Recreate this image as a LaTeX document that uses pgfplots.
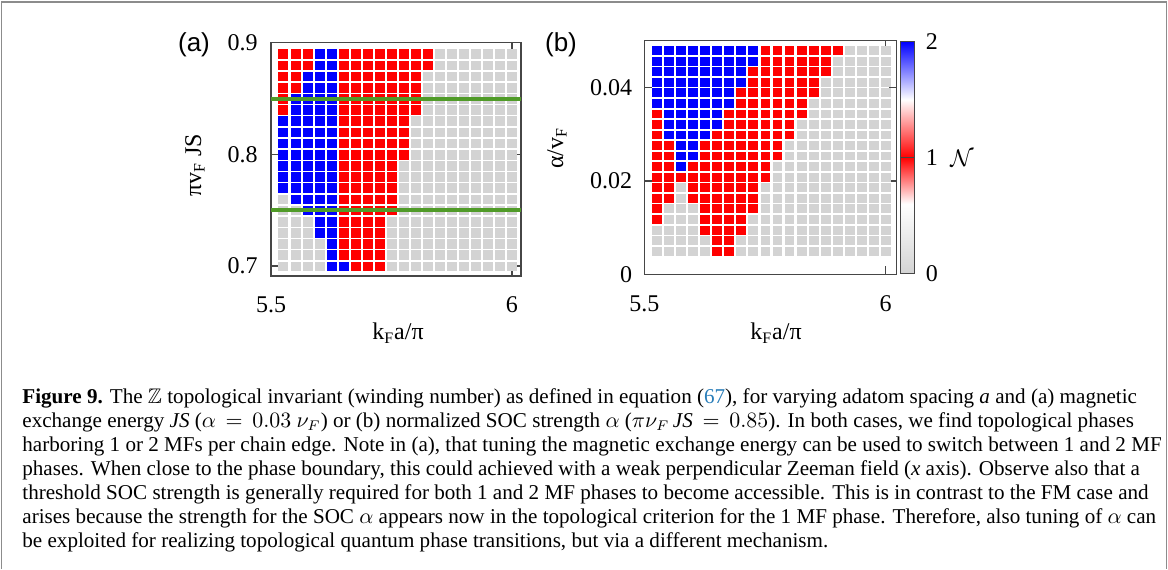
\documentclass[border=0pt]{standalone}
\usepackage{pgfplots}
\pgfplotsset{compat=1.18}
\usepackage{pgfplotstable}
\usepackage{amssymb}
\usepackage{fontspec}
\setmainfont{Liberation Serif}
\newfontfamily\sansf{Liberation Sans}
\definecolor{lnk}{RGB}{40,125,185}
\definecolor{gline}{RGB}{80,155,40}
\definecolor{frame}{RGB}{70,70,70}

\pgfplotsset{colormap={phase}{rgb255(0pt)=(211,211,211) rgb255(6pt)=(255,255,255) rgb255(10pt)=(255,0,0) rgb255(15pt)=(255,255,255) rgb255(20pt)=(0,0,255)}}

\pgfplotstableread{
x
5.525
5.55
5.575
5.6
5.625
5.65
5.675
5.7
5.725
5.75
5.775
5.8
5.825
5.85
5.875
5.9
5.925
5.95
5.975
6.0
}\xgrid

% panel (a): rows = pi v_F JS, columns c1..c20 = k_F a/pi ; N = 0,1,2
\pgfplotstableread{
y c1 c2 c3 c4 c5 c6 c7 c8 c9 c10 c11 c12 c13 c14 c15 c16 c17 c18 c19 c20
0.89 1 1 1 2 2 1 1 1 1 1 1 1 1 0 0 0 0 0 0 0
0.88 1 1 1 2 2 1 1 1 1 1 1 1 1 0 0 0 0 0 0 0
0.87 1 1 2 2 2 1 1 1 1 1 1 1 0 0 0 0 0 0 0 0
0.86 1 1 2 2 2 1 1 1 1 1 1 1 0 0 0 0 0 0 0 0
0.85 1 2 2 2 2 1 1 1 1 1 1 1 0 0 0 0 0 0 0 0
0.84 1 2 2 2 2 1 1 1 1 1 1 1 0 0 0 0 0 0 0 0
0.83 2 2 2 2 2 1 1 1 1 1 1 0 0 0 0 0 0 0 0 0
0.82 2 2 2 2 2 1 1 1 1 1 1 0 0 0 0 0 0 0 0 0
0.81 2 2 2 2 2 1 1 1 1 1 1 0 0 0 0 0 0 0 0 0
0.80 2 2 2 2 2 1 1 1 1 1 1 0 0 0 0 0 0 0 0 0
0.79 2 2 2 2 2 1 1 1 1 1 0 0 0 0 0 0 0 0 0 0
0.78 2 2 2 2 2 1 1 1 1 1 0 0 0 0 0 0 0 0 0 0
0.77 2 2 2 2 2 1 1 1 1 1 0 0 0 0 0 0 0 0 0 0
0.76 0 2 2 2 2 1 1 1 1 1 0 0 0 0 0 0 0 0 0 0
0.75 0 0 2 2 2 1 1 1 1 1 0 0 0 0 0 0 0 0 0 0
0.74 0 0 0 2 2 1 1 1 1 0 0 0 0 0 0 0 0 0 0 0
0.73 0 0 0 2 2 1 1 1 1 0 0 0 0 0 0 0 0 0 0 0
0.72 0 0 0 0 2 1 1 1 1 0 0 0 0 0 0 0 0 0 0 0
0.71 0 0 0 0 2 1 1 1 1 0 0 0 0 0 0 0 0 0 0 0
0.70 0 0 0 0 2 2 1 1 1 0 0 0 0 0 0 0 0 0 0 0
}\tablea

% panel (b): rows = alpha/v_F
\pgfplotstableread{
y c1 c2 c3 c4 c5 c6 c7 c8 c9 c10 c11 c12 c13 c14 c15 c16 c17 c18 c19 c20
0.0480 2 2 2 2 2 2 2 2 2 1 1 1 1 1 1 1 0 0 0 0
0.0457 2 2 2 2 2 2 2 2 2 1 1 1 1 1 1 0 0 0 0 0
0.0435 2 2 2 2 2 2 2 2 1 1 1 1 1 1 1 0 0 0 0 0
0.0412 2 2 2 2 2 2 2 2 1 1 1 1 1 1 0 0 0 0 0 0
0.0390 2 2 2 2 2 2 2 1 1 1 1 1 1 1 0 0 0 0 0 0
0.0367 2 2 2 2 2 2 2 1 1 1 1 1 1 0 0 0 0 0 0 0
0.0344 1 2 2 2 2 2 1 1 1 1 1 1 1 0 0 0 0 0 0 0
0.0322 1 2 2 2 2 2 1 1 1 1 1 1 0 0 0 0 0 0 0 0
0.0299 1 2 2 2 2 1 1 1 1 1 1 1 0 0 0 0 0 0 0 0
0.0276 1 1 2 2 1 1 1 1 1 1 1 0 0 0 0 0 0 0 0 0
0.0254 1 1 2 2 1 1 1 1 1 1 1 0 0 0 0 0 0 0 0 0
0.0231 1 1 2 1 1 1 1 1 1 1 0 0 0 0 0 0 0 0 0 0
0.0208 1 1 1 1 1 1 1 1 1 1 0 0 0 0 0 0 0 0 0 0
0.0186 1 1 0 1 1 1 1 1 1 0 0 0 0 0 0 0 0 0 0 0
0.0163 1 1 0 1 1 1 1 1 1 0 0 0 0 0 0 0 0 0 0 0
0.0141 1 0 0 0 1 1 1 1 1 0 0 0 0 0 0 0 0 0 0 0
0.0118 1 0 0 0 1 1 1 1 0 0 0 0 0 0 0 0 0 0 0 0
0.0095 0 0 0 0 1 1 1 1 0 0 0 0 0 0 0 0 0 0 0 0
0.0073 0 0 0 0 0 1 1 0 0 0 0 0 0 0 0 0 0 0 0 0
0.0050 0 0 0 0 0 1 1 0 0 0 0 0 0 0 0 0 0 0 0 0
}\tableb

\newcommand\tickfont{\fontsize{12}{14}\selectfont}
\pgfplotsset{
  pan/.style={scale only axis, anchor=south west, tick align=inside,
    major tick length=4pt,
    axis line style={frame, line width=0.75pt},
    tick style={frame, line width=0.75pt},
    tick label style={font=\tickfont},
    scaled ticks=false,
    point meta min=0, point meta max=2, colormap name=phase,
    clip=false, clip marker paths=true},
  sqa/.style={only marks, scatter, point meta=explicit, mark=square*, mark size=2.25pt,
    mark options={yscale=0.97, line width=0.1pt},
    scatter/use mapped color={draw=mapped color, fill=mapped color}},
  sqb/.style={only marks, scatter, point meta=explicit, mark=square*, mark size=2.2pt,
    mark options={yscale=0.9, line width=0.1pt},
    scatter/use mapped color={draw=mapped color, fill=mapped color}},
}

\begin{document}
\begin{tikzpicture}[x=0.5pt,y=-0.5pt]
\useasboundingbox (0,0) rectangle (1168,569);
\draw[black!45, line width=0.6pt] (1.5,569) -- (1.5,2) -- (1166.5,2) -- (1166.5,569);

% ---------- panel (a)
\begin{axis}[pan, at={(135.5pt,-138pt)}, width=125pt, height=116.65pt,
  xmin=5.5, xmax=6.0187, ymin=0.6911, ymax=0.9,
  xtick={5.5,6}, xticklabels={5.5,6},
  ytick={0.7,0.8,0.9}, yticklabels={0.7,0.8,0.9},
  xticklabel style={yshift=-7pt}, yticklabel style={xshift=-3.2pt}]
\pgfplotsforeachungrouped \i in {1,...,20}{%
  \pgfmathtruncatemacro\r{\i-1}%
  \pgfplotstablegetelem{\r}{x}\of\xgrid
  \let\xv\pgfplotsretval
  \edef\temp{\noexpand\addplot[sqa] table[x expr=\xv, y=y, meta=c\i]{\noexpand\tablea};}%
  \temp
}
\addplot[gline, line width=2pt, no marks] coordinates {(5.5,0.85) (6.0187,0.85)};
\addplot[gline, line width=2pt, no marks] coordinates {(5.5,0.75) (6.0187,0.75)};
\end{axis}

% ---------- panel (b)
\begin{axis}[pan, at={(322.15pt,-137.15pt)}, width=126.2pt, height=116.8pt,
  xmin=5.5, xmax=6.0228, ymin=0, ymax=0.05,
  xtick={5.5,6}, xticklabels={5.5,6},
  ytick={0,0.02,0.04}, yticklabels={0,0.02,0.04},
  xticklabel style={yshift=-7pt}, yticklabel style={xshift=-2.6pt},
  colorbar,
  colorbar style={at={(parent axis.north east)}, anchor=north west,
    xshift=-6.5pt, yshift=-0.5pt, width=6.8pt, height=115.8pt,
    ytick={0,1,2}, yticklabels={0,1,2},
    tick align=inside, major tick length=6.8pt,
    axis line style={frame, line width=0.7pt},
    tick style={frame, line width=0.7pt},
    yticklabel style={font=\tickfont, xshift=2.2pt}}]
\pgfplotsforeachungrouped \i in {1,...,20}{%
  \pgfmathtruncatemacro\r{\i-1}%
  \pgfplotstablegetelem{\r}{x}\of\xgrid
  \let\xv\pgfplotsretval
  \edef\temp{\noexpand\addplot[sqb] table[x expr=\xv, y=y, meta=c\i]{\noexpand\tableb};}%
  \temp
}
\end{axis}

% ---------- labels
\node[font=\sansf\fontsize{13}{15}\selectfont] at (194,45) {(a)};
\node[font=\sansf\fontsize{13}{15}\selectfont] at (561,45) {(b)};
\node[font=\tickfont, rotate=90] at (195,165) {πv\textsubscript{F} JS};
\node[font=\tickfont, rotate=90] at (557,148) {α/v\textsubscript{F}};
\node[font=\tickfont] at (398,333) {k\textsubscript{F}a/π};
\node[font=\tickfont] at (776,333) {k\textsubscript{F}a/π};
\node[font=\fontsize{12.5}{14}\selectfont] at (962,158) {$\mathcal{N}$};

% ---------- caption
\begin{scope}[every node/.style={anchor=base west, inner sep=0pt, font=\fontsize{10.55}{12}\selectfont}]
\node at (22,403) {\textbf{Figure 9.} The $\mathbb{Z}$ topological invariant (winding number) as defined in equation (\textcolor{lnk}{67}), for varying adatom spacing \textit{a} and (a) magnetic};
\node at (22,427) {exchange energy \textit{JS} ($\alpha\,=\,0.03\ \nu_F$) or (b) normalized SOC strength $\alpha$ ($\pi\nu_F\,\textit{JS}\,=\,0.85$). In both cases, we find topological phases};
\node at (22,451) {harboring 1 or 2 MFs per chain edge. Note in (a), that tuning the magnetic exchange energy can be used to switch between 1 and 2 MF};
\node at (22,475) {phases. When close to the phase boundary, this could achieved with a weak perpendicular Zeeman field (\textit{x} axis). Observe also that a};
\node at (22,499) {threshold SOC strength is generally required for both 1 and 2 MF phases to become accessible. This is in contrast to the FM case and};
\node at (22,523) {arises because the strength for the SOC $\alpha$ appears now in the topological criterion for the 1 MF phase. Therefore, also tuning of $\alpha$ can};
\node at (22,547) {be exploited for realizing topological quantum phase transitions, but via a different mechanism.};
\end{scope}
\end{tikzpicture}
\end{document}
